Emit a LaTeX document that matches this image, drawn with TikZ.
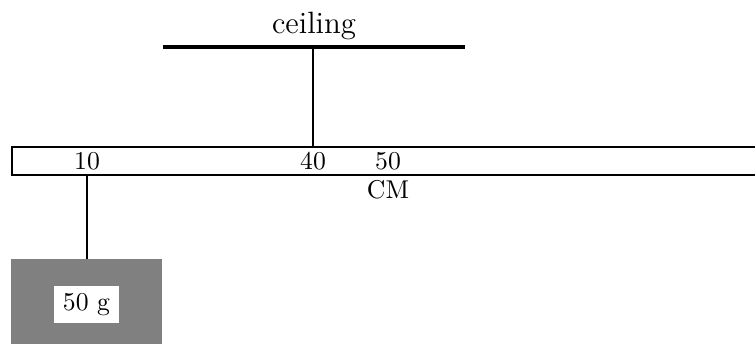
\documentclass[tikz,border=0pt]{standalone}
\begin{document}
\begin{tikzpicture}[x=0.389pt,y=-0.389pt,
  thinline/.style={line width=0.65pt},
  ceilline/.style={line width=1.2pt},
  lbl/.style={inner sep=0pt, anchor=center},
  weightbox/.style={fill=gray, draw=none},
  tagbox/.style={fill=white, inner sep=0pt, minimum width=65*0.389pt, minimum height=37*0.389pt}]
\useasboundingbox (0,0) rectangle (755,345);
% ceiling
\coordinate (cl) at (163,47);
\coordinate (cr) at (465,47);
\draw[ceilline] (cl) -- (cr);
\node[lbl, anchor=base, font=\large] (ceil) at (314,33) {ceiling};
% meter stick
\draw[thinline] (12,147) rectangle (768,175);
\coordinate (pivotTop) at (313,47);
\coordinate (pivotBot) at (313,147);
\draw[thinline] (pivotTop) -- (pivotBot);
\node[lbl] (t10) at (87,161) {10};
\node[lbl] (t40) at (313,161) {40};
\node[lbl] (t50) at (388,161) {50};
\node[lbl] (cm) at (388,190) {CM};
% hanging mass
\coordinate (hangTop) at (87,175);
\fill[weightbox] (11,259) rectangle (162,344);
\coordinate (hangBot) at (87,259);
\draw[thinline] (hangTop) -- (hangBot);
\node[tagbox] (mass) at (86.5,304.5) {50 g};
\end{tikzpicture}
\end{document}
